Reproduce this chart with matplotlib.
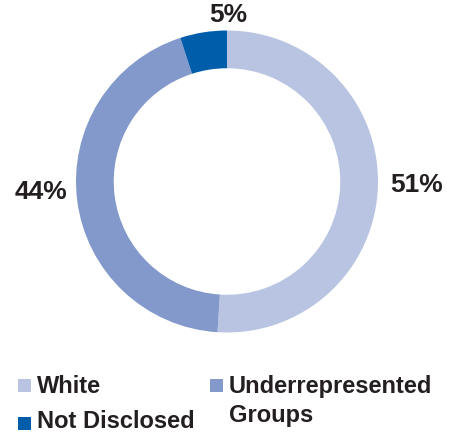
import matplotlib
matplotlib.use("Agg")
from matplotlib import pyplot as plt
from matplotlib.patches import Rectangle

# data
categories = ["White", "Underrepresented\nGroups", "Not Disclosed"]
shares = [51, 44, 5]
colors = ["#B8C4E2", "#8399CB", "#005DAA"]
pct_labels = ["51%", "44%", "5%"]

txt_color = "#231F20"
plt.rcParams["font.family"] = ["Liberation Sans", "DejaVu Sans"]

fig = plt.figure(figsize=(4.5, 4.34), dpi=100, facecolor="w")

# donut axes: outer radius ~151px, centre at (227, 181.5) from top-left
W, H = 450.0, 434.0
r_px = 151.0
cx, cy = 227.0, 181.5
ax = fig.add_axes([(cx - r_px) / W, (H - cy - r_px) / H, 2 * r_px / W, 2 * r_px / H])
ax.pie(shares, colors=colors, startangle=90, counterclock=False, radius=1.0,
       wedgeprops=dict(width=0.25, edgecolor="none"))
ax.set_xlim(-1, 1)
ax.set_ylim(-1, 1)
ax.set_aspect("equal")
ax.axis("off")

# percentage labels placed outside the ring
label_pos = [(1.255, -0.023), (-1.235, -0.07), (0.007, 1.105)]
for lab, (x, y) in zip(pct_labels, label_pos):
    ax.text(x, y, lab, ha="center", va="center", fontsize=19, fontweight="bold",
            color=txt_color, clip_on=False)

# legend drawn by hand (two columns)
leg_sq = [(18, 379), (210, 379), (18, 417)]   # top-left of squares in px
leg_txt = [(37, 393), (229, 393), (37, 428)]   # text start / first baseline in px
line_step = 29
sq = 13
for i, name in enumerate(categories):
    sx, sy = leg_sq[i]
    fig.patches.append(Rectangle((sx / W, (H - sy - sq) / H), sq / W, sq / H,
                                 transform=fig.transFigure, facecolor=colors[i],
                                 edgecolor="none"))
    tx, ty = leg_txt[i]
    for k, line in enumerate(name.split("\n")):
        fig.text(tx / W, (H - ty - k * line_step) / H, line, ha="left",
                 va="baseline", fontsize=17, fontweight="bold", color=txt_color)

plt.savefig("out.png", dpi=100, facecolor="w")
plt.close()
